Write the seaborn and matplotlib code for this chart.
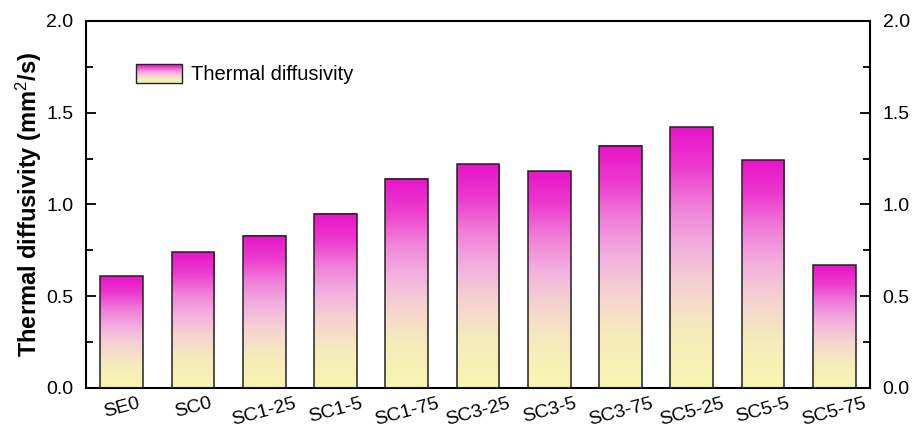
import numpy as np
import pandas as pd
import matplotlib
matplotlib.use("Agg")
import matplotlib.pyplot as plt
import seaborn as sns
from matplotlib.colors import LinearSegmentedColormap
from matplotlib.patches import Rectangle, Patch
from matplotlib.image import BboxImage
from matplotlib.transforms import Bbox, TransformedBbox
from matplotlib.legend_handler import HandlerBase
from matplotlib.ticker import MultipleLocator

categories = ["SE0", "SC0", "SC1-25", "SC1-5", "SC1-75", "SC3-25",
              "SC3-5", "SC3-75", "SC5-25", "SC5-5", "SC5-75"]
diffusivity = [0.61, 0.74, 0.83, 0.95, 1.14, 1.22, 1.18, 1.32, 1.42, 1.24, 0.67]
series_name = "Thermal diffusivity"
y_label = "Thermal diffusivity (mm$^{2}$/s)"

sns.set_style("ticks")
plt.rcParams["font.family"] = ["Liberation Sans", "DejaVu Sans"]
plt.rcParams["mathtext.fontset"] = "custom"
plt.rcParams["mathtext.rm"] = "Liberation Sans"
plt.rcParams["mathtext.bf"] = "Liberation Sans:bold"
plt.rcParams["mathtext.it"] = "Liberation Sans:italic"
plt.rcParams["text.color"] = "black"
plt.rcParams["axes.labelcolor"] = "black"
plt.rcParams["xtick.color"] = "black"
plt.rcParams["ytick.color"] = "black"

cmap = LinearSegmentedColormap.from_list(
    "grad",
    [(0.0, "#F8F6B0"), (0.22, "#F6EABC"), (0.4, "#F5D0D2"),
     (0.55, "#F3AEDF"), (0.7, "#F07ED8"), (0.85, "#EC3ACF"), (1.0, "#E814C9")])
grad = np.linspace(0, 1, 256).reshape(-1, 1)

fig = plt.figure(figsize=(9.14, 4.30), dpi=100)
ax = fig.add_axes([86 / 914, 1 - 388 / 430, 784 / 914, 367 / 430])

df = pd.DataFrame({"cat": categories, "val": diffusivity})
sns.barplot(data=df, x="cat", y="val", ax=ax, width=0.6, color="white",
            edgecolor="#222222", linewidth=1.1, zorder=3)

for p in ax.patches:
    x0, w, h = p.get_x(), p.get_width(), p.get_height()
    ax.imshow(grad, cmap=cmap, origin="lower", aspect="auto",
              extent=[x0, x0 + w, 0, h], zorder=2, interpolation="bilinear")
    p.set_facecolor("none")

ax.set_xlim(-0.5, len(categories) - 0.5)
ax.set_ylim(0, 2.0)
ax.yaxis.set_minor_locator(MultipleLocator(0.25))
ax.set_yticks([0, 0.5, 1.0, 1.5, 2.0])
ax.set_yticklabels(["0.0", "0.5", "1.0", "1.5", "2.0"])

for s in ax.spines.values():
    s.set_visible(True)
    s.set_linewidth(1.5)
    s.set_color("black")

ax.tick_params(axis="y", which="major", direction="in", length=7, width=1.3,
               left=True, right=True, labelleft=True, labelright=True,
               labelsize=14, pad=9)
ax.tick_params(axis="y", which="minor", direction="in", length=5, width=1.3,
               left=True, right=True)
ax.tick_params(axis="x", length=0, labelsize=14, pad=5)
for lbl in ax.get_xticklabels():
    lbl.set_rotation(15)
    lbl.set_ha("center")

ax.set_xlabel("")
ax.set_ylabel(y_label, fontsize=17, fontweight="bold", labelpad=2)


class GradientHandler(HandlerBase):
    def create_artists(self, legend, orig_handle, xdescent, ydescent,
                       width, height, fontsize, trans):
        bb = TransformedBbox(Bbox.from_bounds(-xdescent, -ydescent, width, height), trans)
        img = BboxImage(bb, cmap=cmap, origin="lower", interpolation="bilinear")
        img.set_data(grad)
        rect = Rectangle((-xdescent, -ydescent), width, height,
                         facecolor="none", edgecolor="#222222", linewidth=1.0,
                         transform=trans)
        return [img, rect]


handle = Patch(facecolor="none", edgecolor="black", label=series_name)
ax.legend(handles=[handle], handler_map={Patch: GradientHandler()},
          loc="upper left", bbox_to_anchor=(0.041, 0.932), frameon=False,
          fontsize=14.5, handlelength=2.25, handleheight=1.05, handletextpad=0.45)

fig.savefig("out.png", dpi=100)
